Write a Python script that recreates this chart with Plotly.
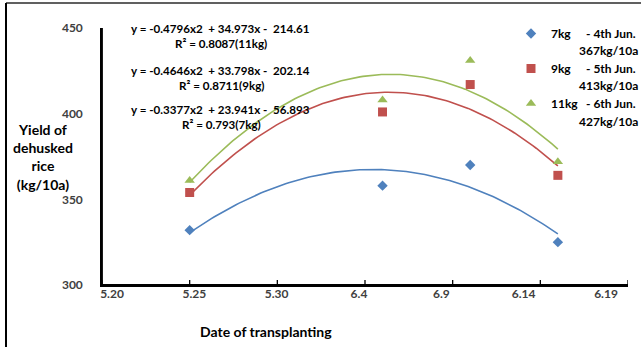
import numpy as np
import plotly.graph_objects as go

# ---- data ----
x_days = [25, 36, 41, 46]            # day count from May 1 (5.25, 6.5, 6.10, 6.15)
series_names = ["7kg", "9kg", "11kg"]
yield_7kg = [332, 358, 370, 325]
yield_9kg = [354, 401, 417, 364]
yield_11kg = [361, 408, 431, 372]
# trend-line coefficients shown on the chart (a, b, c) for y = a x^2 + b x + c
coef_7kg = [-0.3377, 23.941, -56.893]
coef_9kg = [-0.4646, 33.798, -202.14]
coef_11kg = [-0.4796, 34.973, -214.61]
r2_7kg, r2_9kg, r2_11kg = "0.793", "0.8711", "0.8087"
legend_dates = ["- 4th Jun.", "- 5th Jun.", "- 6th Jun."]
legend_peaks = ["367kg/10a", "413kg/10a", "427kg/10a"]
tick_vals = [20, 25, 30, 35, 40, 45, 50]
tick_text = ["5.20", "5.25", "5.30", "6.4", "6.9", "6.14", "6.19"]
y_ticks = [300, 350, 400, 450]
x_range = [20, 50]
y_range = [300, 450]

colors = ["#4F81BD", "#C0504D", "#9BBB59"]
symbols = ["diamond", "square", "triangle-up"]
sizes = [8, 9, 9]

FONT = "Lato"
W, H = 641, 347
L, R, T, B = 102, 13, 28, 62
PW, PH = W - L - R, H - T - B


def px(xp):
    return (xp - L) / PW


def py(yp):
    return (H - B - yp) / PH


fig = go.Figure()

# axis frame (L-shaped), built from the axis ranges
fig.add_trace(go.Scatter(
    x=[x_range[0], x_range[0], x_range[1]], y=[y_range[1], y_range[0], y_range[0]],
    mode="lines", line=dict(color="#000000", width=1.8), cliponaxis=False,
    showlegend=False, hoverinfo="skip"))
# tick marks built from the tick values
dx = (x_range[1] - x_range[0]) / PW
dy = (y_range[1] - y_range[0]) / PH
tx, ty = [], []
for v in tick_vals:
    tx += [v, v, None]
    ty += [y_range[0] - 1 * dy, y_range[0] + 5 * dy, None]
for v in y_ticks:
    tx += [x_range[0] - 5 * dx, x_range[0], None]
    ty += [v, v, None]
fig.add_trace(go.Scatter(x=tx, y=ty, mode="lines", line=dict(color="#000000", width=1.3),
                         cliponaxis=False, showlegend=False, hoverinfo="skip"))

ys = [yield_7kg, yield_9kg, yield_11kg]
coefs = [coef_7kg, coef_9kg, coef_11kg]
for i in range(3):
    a, b, c = coefs[i]
    xs = np.linspace(min(x_days), max(x_days), 120)
    fig.add_trace(go.Scatter(
        x=xs, y=a * xs ** 2 + b * xs + c, mode="lines",
        line=dict(color=colors[i], width=1.6), showlegend=False,
        hoverinfo="skip", legendgroup=series_names[i]))
for i in range(3):
    fig.add_trace(go.Scatter(
        x=x_days, y=ys[i], mode="markers", name=series_names[i],
        legendgroup=series_names[i],
        marker=dict(color=colors[i], symbol=symbols[i], size=sizes[i])))
# empty trace that only activates the label axis
fig.add_trace(go.Scatter(x=[], y=[], xaxis="x2", yaxis="y", showlegend=False,
                         hoverinfo="skip"))

annotations = []
EQ_FONT = dict(family=FONT, size=11.6, color="#000000", weight="bold")
eqs = [(coef_11kg, r2_11kg, "11kg", 28, 43), (coef_9kg, r2_9kg, "9kg", 70, 85),
       (coef_7kg, r2_7kg, "7kg", 109, 124)]
for coef, r2, nm, y1, y2 in eqs:
    a, b, c = coef
    annotations.append(dict(
        text=f"y = {a}x2  + {b}x -  {abs(c)}", x=px(220), y=py(y1),
        xref="paper", yref="paper", showarrow=False, xanchor="center", yanchor="middle",
        font=EQ_FONT))
    annotations.append(dict(
        text=f"R² = {r2}({nm})", x=px(221), y=py(y2),
        xref="paper", yref="paper", showarrow=False, xanchor="center", yanchor="middle",
        font=EQ_FONT))

LEG_FONT = dict(family=FONT, size=12, color="#000000", weight="bold")
leg_y = [33, 68, 104]
for i in range(3):
    annotations.append(dict(
        text=legend_dates[i], x=px(584), y=py(leg_y[i]), xref="paper", yref="paper",
        showarrow=False, xanchor="left", yanchor="middle", font=LEG_FONT))
    annotations.append(dict(
        text=legend_peaks[i], x=px(640), y=py(leg_y[i] + 17), xref="paper", yref="paper",
        showarrow=False, xanchor="right", yanchor="middle", font=LEG_FONT))

annotations.append(dict(
    text="Yield of<br>dehusked<br>rice<br>(kg/10a)", x=px(43), y=py(157),
    xref="paper", yref="paper", showarrow=False, xanchor="center", yanchor="middle",
    align="center", font=dict(family=FONT, size=14, color="#000000", weight="bold")))
annotations.append(dict(
    text="Date of transplanting", x=px(266), y=py(331),
    xref="paper", yref="paper", showarrow=False, xanchor="center", yanchor="middle",
    font=dict(family=FONT, size=14, color="#000000", weight="bold")))

shapes = [
    dict(type="line", xref="paper", yref="paper", x0=px(6), x1=px(641),
         y0=py(3), y1=py(3), line=dict(color="#606060", width=2)),
    dict(type="line", xref="paper", yref="paper", x0=px(6), x1=px(6),
         y0=py(3), y1=py(347), line=dict(color="#000000", width=2)),
]

fig.update_layout(
    width=W, height=H, margin=dict(l=L, r=R, t=T, b=B, autoexpand=False),
    paper_bgcolor="white", plot_bgcolor="white",
    font=dict(family=FONT, size=12, color="#404040"),
    annotations=annotations,
    showlegend=True,
    legend=dict(x=px(511), y=py(19), xanchor="left", yanchor="top",
                traceorder="grouped", tracegroupgap=16, itemwidth=30,
                bgcolor="rgba(0,0,0,0)", font=LEG_FONT),
    shapes=shapes,
    xaxis=dict(range=x_range, tickvals=tick_vals, showticklabels=False,
               showline=True, linecolor="#000000", linewidth=1.5, ticks="",
               showgrid=False, zeroline=False),
    # label axis: same values, labels spaced as in the original (slightly compressed)
    xaxis2=dict(overlaying="x", anchor="y", side="bottom", range=[19.393, 51.336],
                tickvals=tick_vals, ticktext=tick_text, ticks="", showline=False,
                showgrid=False, zeroline=False,
                tickfont=dict(family=FONT, size=12, color="#404040", weight="bold")),
    yaxis=dict(range=y_range, tickvals=y_ticks, showline=True, linecolor="#000000",
               linewidth=1.5, ticks="", showgrid=False, zeroline=False,
               ticklabelstandoff=15,
               tickfont=dict(family=FONT, size=12, color="#404040", weight="bold")),
)

fig.write_html("out.html", post_script="document.body.style.margin='0';",
               config={"displayModeBar": False})
